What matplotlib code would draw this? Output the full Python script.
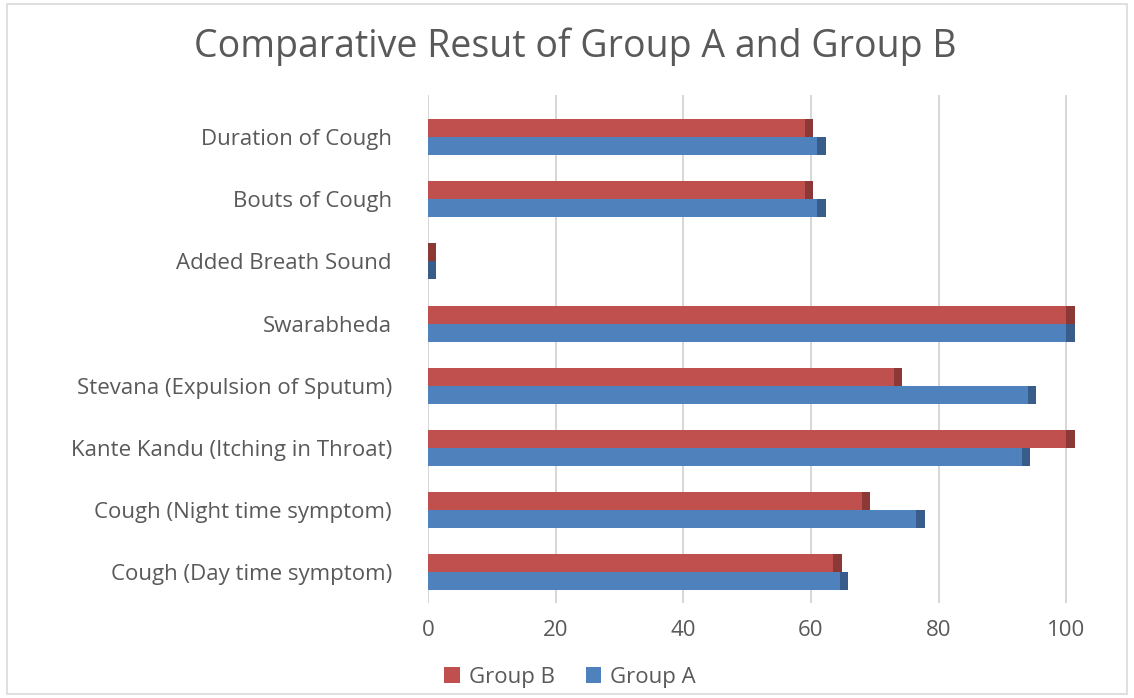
import matplotlib.pyplot as plt
from matplotlib.patches import Rectangle
import numpy as np

# categories listed bottom -> top
categories = ['Cough (Day time symptom)', 'Cough (Night time symptom)',
              'Kante Kandu (Itching in Throat)', 'Stevana (Expulsion of Sputum)',
              'Swarabheda', 'Added Breath Sound', 'Bouts of Cough', 'Duration of Cough']
group_a = [64.5, 76.5, 93.0, 94.0, 100.0, 0.0, 61.0, 61.0]
group_b = [63.5, 68.0, 100.0, 73.0, 100.0, 0.0, 59.0, 59.0]
xticks = [0, 20, 40, 60, 80, 100]

red = '#C0504D'
red_dark = '#8C3836'
blue = '#4F81BD'
blue_dark = '#385D8A'
txt = '#595959'

plt.rcParams['font.family'] = ['Open Sans', 'DejaVu Sans']

fig = plt.figure(figsize=(11.34, 6.98), dpi=100)
ax = fig.add_axes([428 / 1134, 1 - 603 / 698, 651 / 1134, (603 - 95) / 698])

y = np.arange(len(categories))
h = 0.29
cap = 1.3

ax.barh(y + h / 2, group_b, height=h, color=red, label='Group B', zorder=3)
ax.barh(y - h / 2, group_a, height=h, color=blue, label='Group A', zorder=3)
# darker end faces to hint at the 3-D look
ax.barh(y + h / 2, cap, left=group_b, height=h, color=red_dark, zorder=3)
ax.barh(y - h / 2, cap, left=group_a, height=h, color=blue_dark, zorder=3)

ax.set_xlim(0, 102)
ax.set_ylim(-0.5, 7.68)
ax.set_xticks(xticks)
ax.set_yticks(y)
ax.set_yticklabels(categories)
ax.grid(axis='x', color='#D0D0D0', linewidth=1.2, zorder=0)
for s in ax.spines.values():
    s.set_visible(False)
ax.tick_params(axis='both', length=0, colors=txt, labelsize=16)
ax.tick_params(axis='y', pad=26)
ax.tick_params(axis='x', pad=12)

fig.text(0.507, 0.933, 'Comparative Resut of Group A and Group B',
         ha='center', va='center', fontsize=27, color=txt)

handles, labels = ax.get_legend_handles_labels()
fig.legend(handles[:2], labels[:2], loc='center', bbox_to_anchor=(570 / 1134, 1 - 677 / 698),
           ncol=2, frameon=False, fontsize=16, labelcolor=txt,
           handlelength=0.7, handleheight=0.7, handletextpad=0.4, columnspacing=1.4)

fig.patches.append(Rectangle((0.006, 0.006), 0.988, 0.988, transform=fig.transFigure,
                             fill=False, edgecolor='#D9D9D9', linewidth=1.2))

fig.savefig('out.png', dpi=100, facecolor='white')
